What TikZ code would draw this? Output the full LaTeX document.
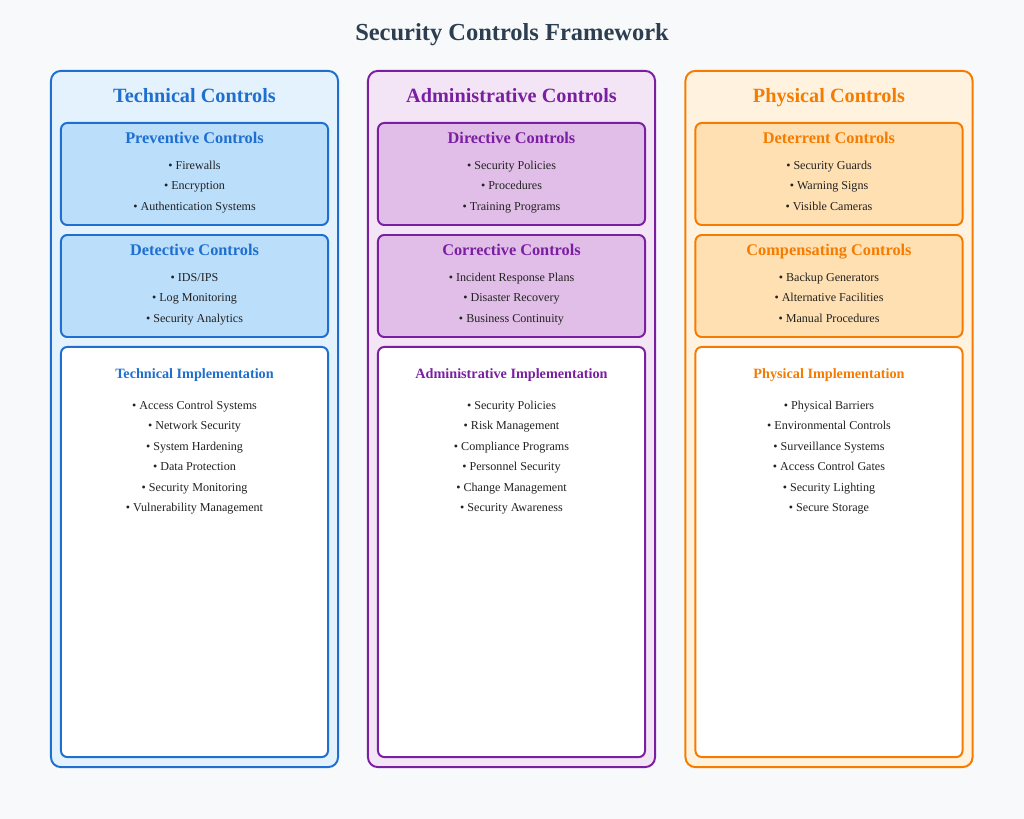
\documentclass[tikz,border=0pt]{standalone}
\usepackage{fontspec}
\setmainfont{Liberation Serif}
\usetikzlibrary{positioning}
\definecolor{pagebg}{HTML}{F8F9FA}
\definecolor{titletext}{HTML}{2C3E50}
\definecolor{itemtext}{HTML}{222222}
\definecolor{technical}{HTML}{1E6FCF}
\definecolor{technicalbg}{HTML}{E3F2FD}
\definecolor{technicalsub}{HTML}{BBDEFB}
\definecolor{admin}{HTML}{7B1FA2}
\definecolor{adminbg}{HTML}{F3E5F5}
\definecolor{adminsub}{HTML}{E1BEE7}
\definecolor{physical}{HTML}{F57C00}
\definecolor{physicalbg}{HTML}{FFF3E0}
\definecolor{physicalsub}{HTML}{FFE0B2}

\begin{document}
\begin{tikzpicture}[
    x=0.025cm, y=-0.025cm,
    column/.style={
      draw, rectangle, rounded corners=7pt, line width=1.4pt,
      minimum width=7.175cm, minimum height=17.4cm},
    subbox/.style={
      draw, rectangle, rounded corners=4.5pt, line width=1.4pt,
      minimum width=6.675cm, minimum height=2.55cm},
    implbox/.style={
      draw, rectangle, rounded corners=4.5pt, line width=1.4pt,
      fill=white, minimum width=6.675cm, minimum height=10.25cm},
    colhead/.style={anchor=base, font=\fontsize{14.4}{17}\selectfont\bfseries},
    subhead/.style={anchor=base, font=\fontsize{11.6}{14}\selectfont\bfseries},
    implhead/.style={anchor=base, font=\fontsize{10.1}{12}\selectfont\bfseries},
    % base anchor sits on the last line
    items/.style={
      anchor=base, align=center, text=itemtext, inner sep=0pt,
      font=\fontsize{8.6}{14.51}\selectfont},
  ]

  % ── page ──
  \fill[pagebg] (0,0) rectangle (1024,819);
  \node[anchor=base, font=\fontsize{17.4}{20}\selectfont\bfseries, text=titletext]
    (title) at (512,41) {Security Controls Framework};

  % ── Technical column ──
  \node[column, draw=technical, fill=technicalbg] (tech) at (194.5,419) {};
  \node[colhead, text=technical] (techhead) at (194.5,103) {Technical Controls};

  \node[subbox, draw=technical, fill=technicalsub] (prev) at (194.5,174) {};
  \node[subhead, text=technical] (prevhead) at (194.5,143.3) {Preventive Controls};
  \node[items] (previtems) at (194.5,210.1)
    {• Firewalls\\• Encryption\\• Authentication Systems};

  \node[subbox, draw=technical, fill=technicalsub] (detc) at (194.5,286) {};
  \node[subhead, text=technical] (detchead) at (194.5,255.3) {Detective Controls};
  \node[items] (detcitems) at (194.5,322.1)
    {• IDS/IPS\\• Log Monitoring\\• Security Analytics};

  \node[implbox, draw=technical] (techimpl) at (194.5,552) {};
  \node[implhead, text=technical] (techimplhead) at (194.5,378.5)
    {Technical Implementation};
  \node[items] (techimplitems) at (194.5,511.5)
    {• Access Control Systems\\• Network Security\\• System Hardening\\
     • Data Protection\\• Security Monitoring\\• Vulnerability Management};

  % ── Administrative column ──
  \node[column, draw=admin, fill=adminbg] (adm) at (511.5,419) {};
  \node[colhead, text=admin] (admhead) at (511.5,103) {Administrative Controls};

  \node[subbox, draw=admin, fill=adminsub] (dirc) at (511.5,174) {};
  \node[subhead, text=admin] (dirchead) at (511.5,143.3) {Directive Controls};
  \node[items] (dircitems) at (511.5,210.1)
    {• Security Policies\\• Procedures\\• Training Programs};

  \node[subbox, draw=admin, fill=adminsub] (corr) at (511.5,286) {};
  \node[subhead, text=admin] (corrhead) at (511.5,255.3) {Corrective Controls};
  \node[items] (corritems) at (511.5,322.1)
    {• Incident Response Plans\\• Disaster Recovery\\• Business Continuity};

  \node[implbox, draw=admin] (admimpl) at (511.5,552) {};
  \node[implhead, text=admin] (admimplhead) at (511.5,378.5)
    {Administrative Implementation};
  \node[items] (admimplitems) at (511.5,511.5)
    {• Security Policies\\• Risk Management\\• Compliance Programs\\
     • Personnel Security\\• Change Management\\• Security Awareness};

  % ── Physical column ──
  \node[column, draw=physical, fill=physicalbg] (phys) at (829,419) {};
  \node[colhead, text=physical] (physhead) at (829,103) {Physical Controls};

  \node[subbox, draw=physical, fill=physicalsub] (detr) at (829,174) {};
  \node[subhead, text=physical] (detrhead) at (829,143.3) {Deterrent Controls};
  \node[items] (detritems) at (829,210.1)
    {• Security Guards\\• Warning Signs\\• Visible Cameras};

  \node[subbox, draw=physical, fill=physicalsub] (comp) at (829,286) {};
  \node[subhead, text=physical] (comphead) at (829,255.3) {Compensating Controls};
  \node[items] (compitems) at (829,322.1)
    {• Backup Generators\\• Alternative Facilities\\• Manual Procedures};

  \node[implbox, draw=physical] (physimpl) at (829,552) {};
  \node[implhead, text=physical] (physimplhead) at (829,378.5)
    {Physical Implementation};
  \node[items] (physimplitems) at (829,511.5)
    {• Physical Barriers\\• Environmental Controls\\• Surveillance Systems\\
     • Access Control Gates\\• Security Lighting\\• Secure Storage};

\end{tikzpicture}
\end{document}
